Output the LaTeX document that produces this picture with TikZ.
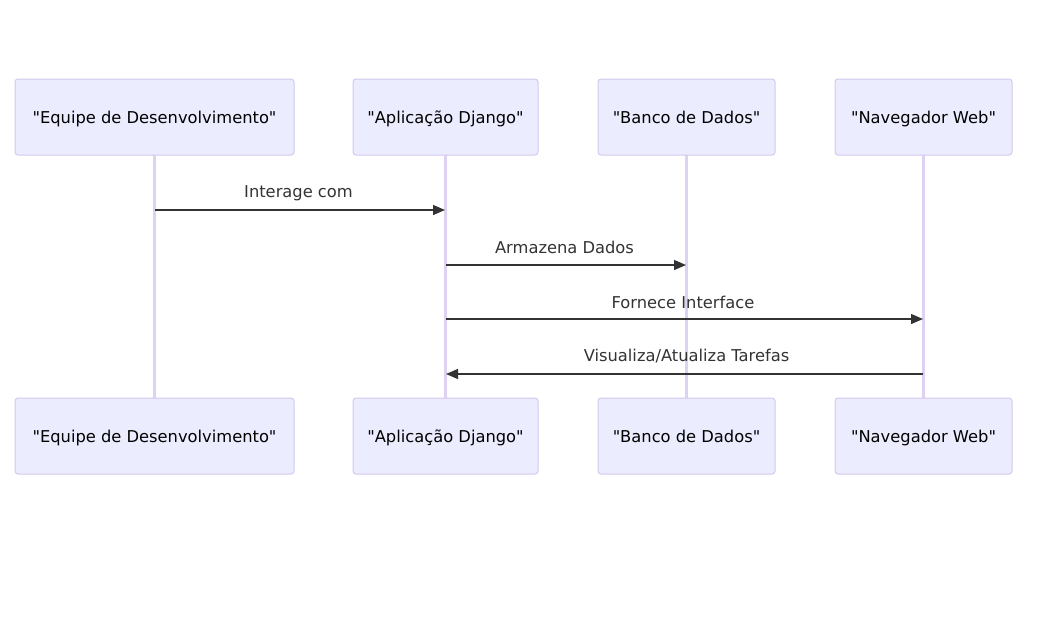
\documentclass[tikz,border=0pt]{standalone}
\usepackage{fontspec}
\setmainfont{DejaVu Sans}[Ligatures=TeXOff]
\usetikzlibrary{arrows.meta}
\definecolor{actfill}{HTML}{ECECFF}
\definecolor{actdraw}{HTML}{D4C8EE}
\definecolor{lifecol}{HTML}{DDD2F2}
\definecolor{msgcol}{HTML}{333333}
\begin{document}
\begin{tikzpicture}[x=1pt,y=-1pt,
  actor/.style={draw=actdraw,fill=actfill,line width=1pt,rounded corners=3pt,minimum height=76pt,inner sep=0pt},
  acttext/.style={font=\fontsize{16.3}{19}\selectfont,text=black,anchor=base,inner sep=0pt},
  life/.style={draw=lifecol,line width=2.2pt},
  msg/.style={draw=msgcol,line width=1.3pt,-{Triangle[length=12pt,width=10pt]}},
  lbl/.style={font=\fontsize{16.3}{19}\selectfont,text=msgcol}]
\useasboundingbox (0,0) rectangle (1056,618);
\fill[white] (0,0) rectangle (1056,618);
% lifelines first
\coordinate (l1t) at (154.5,155); \coordinate (l1b) at (154.5,398);
\coordinate (l2t) at (445.5,155); \coordinate (l2b) at (445.5,398);
\coordinate (l3t) at (686.5,155); \coordinate (l3b) at (686.5,398);
\coordinate (l4t) at (923.5,155); \coordinate (l4b) at (923.5,398);
\draw[life] (l1t) -- (l1b);
\draw[life] (l2t) -- (l2b);
\draw[life] (l3t) -- (l3b);
\draw[life] (l4t) -- (l4b);
% actors top
\node[actor,minimum width=279pt] (a1) at (154.5,117) {};
\node[actor,minimum width=185pt] (a2) at (445.5,117) {};
\node[actor,minimum width=177pt] (a3) at (686.5,117) {};
\node[actor,minimum width=177pt] (a4) at (923.5,117) {};
% actors bottom
\node[actor,minimum width=279pt] (b1) at (154.5,436) {};
\node[actor,minimum width=185pt] (b2) at (445.5,436) {};
\node[actor,minimum width=177pt] (b3) at (686.5,436) {};
\node[actor,minimum width=177pt] (b4) at (923.5,436) {};
\foreach \n/\t in {a1/"Equipe de Desenvolvimento",a2/"Aplicação Django",a3/"Banco de Dados",a4/"Navegador Web",b1/"Equipe de Desenvolvimento",b2/"Aplicação Django",b3/"Banco de Dados",b4/"Navegador Web"}
  \node[acttext] (\n t) at ([yshift=-6pt]\n.center) {\t};
% messages
\coordinate (m1s) at (155,210); \coordinate (m1e) at (445,210);
\coordinate (m2s) at (446,265); \coordinate (m2e) at (686,265);
\coordinate (m3s) at (446,319); \coordinate (m3e) at (923,319);
\coordinate (m4s) at (923,374); \coordinate (m4e) at (446,374);
\draw[msg] (m1s) -- (m1e);
\draw[msg] (m2s) -- (m2e);
\draw[msg] (m3s) -- (m3e);
\draw[msg] (m4s) -- (m4e);
\node[lbl] (t1) at (298.5,193) {Interage com};
\node[lbl] (t2) at (564.5,247) {Armazena Dados};
\node[lbl] (t3) at (683,302) {Fornece Interface};
\node[lbl] (t4) at (686.5,356) {Visualiza/Atualiza Tarefas};
\end{tikzpicture}
\end{document}
